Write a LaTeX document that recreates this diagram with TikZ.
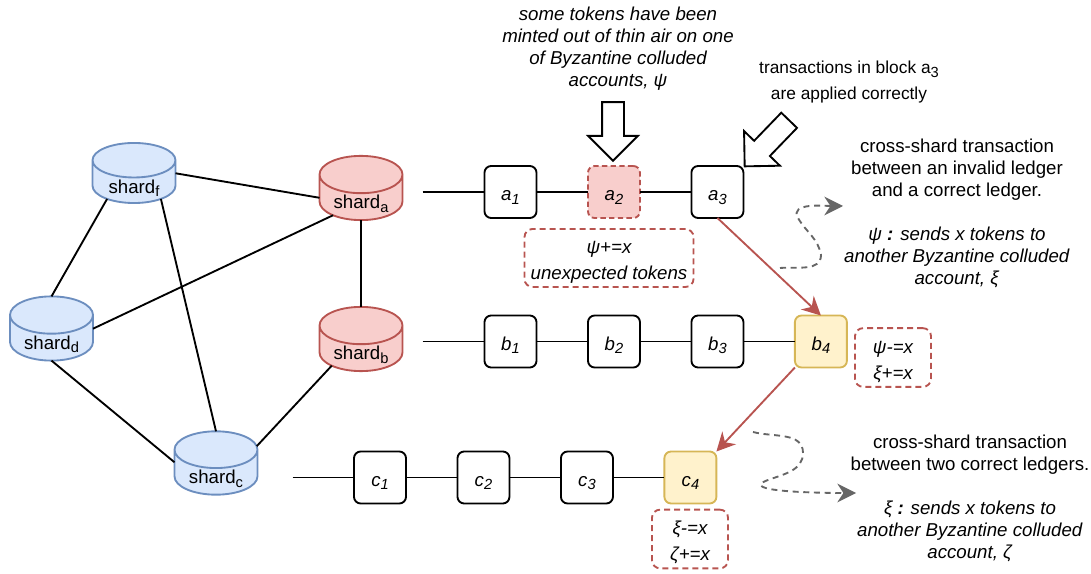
\documentclass[tikz,border=0pt]{standalone}
\usepackage{fontspec}
\setmainfont{Liberation Sans}
\usepackage{tikz}
\usetikzlibrary{shapes.geometric, shapes.arrows, arrows.meta, positioning}
\definecolor{redfill}{HTML}{F8CECC}
\definecolor{redline}{HTML}{B85450}
\definecolor{bluefill}{HTML}{DAE8FC}
\definecolor{blueline}{HTML}{6C8EBF}
\definecolor{yellowfill}{HTML}{FFF2CC}
\definecolor{yellowline}{HTML}{D6B656}
\definecolor{grayline}{HTML}{666666}
\newcommand{\lowtext}[1]{\raisebox{-0.35ex}{\fontsize{11}{12}\selectfont #1}}
\newcommand{\shardname}[1]{\raisebox{-5.5pt}[0pt][0pt]{shard\lowtext{#1}}}
\newcommand{\notegap}{\rule{0pt}{16pt}}

\begin{document}
\begin{tikzpicture}[
    x=0.75pt, y=0.75pt,
    every node/.append style={font=\fontsize{14}{16.5}\selectfont},
    shard/.style={cylinder, shape border rotate=90, aspect=0.68, draw, line width=1.4pt, minimum width=62.25pt, minimum height=38.25pt, inner sep=0pt, outer sep=0pt, text height=5.5pt, text depth=0pt, anchor=shape center},
    shardblue/.style={shard, draw=blueline, fill=bluefill},
    shardred/.style={shard, draw=redline, fill=redfill},
    block/.style={draw, rounded corners=5pt, line width=1.4pt, minimum size=39pt, inner sep=0pt, outer sep=0pt, fill=white, text height=13pt, text depth=0pt, font=\fontsize{14}{16.5}\selectfont\itshape},
    badblock/.style={block, draw=redline, fill=redfill, dash pattern=on 4pt off 2.5pt},
    crossblock/.style={block, draw=yellowline, fill=yellowfill},
    notebox/.style={draw=redline, dash pattern=on 4.5pt off 3pt, rounded corners=6pt, line width=1.4pt, inner sep=0pt, align=center, font=\fontsize{14}{19.5}\selectfont\itshape},
    bigarrow/.style={single arrow, draw, line width=1.4pt, fill=white, minimum width=37pt, minimum height=44pt, single arrow head extend=10.5pt, inner sep=7.5pt},
    link/.style={line width=1.4pt},
    redarrow/.style={draw=redline, line width=1.4pt, -{Stealth[length=14pt, width=14pt]}},
    grayarrow/.style={draw=grayline, line width=1.4pt, dash pattern=on 4.5pt off 3.5pt, -{Stealth[length=14pt, width=14pt]}},
    caption/.style={align=center},
    node distance=38.6pt
]
    \useasboundingbox (0,0) rectangle (1091,574);

    % Shards
    \node[shardblue] (shardf) at (134,401) {\shardname{f}};
    \node[shardblue] (shardd) at (51.5,245.5) {\shardname{d}};
    \node[shardblue] (shardc) at (216,111) {\shardname{c}};
    \node[shardred] (sharda) at (361,386) {\shardname{a}};
    \node[shardred] (shardb) at (361,235) {\shardname{b}};

    \draw[link] (shardf.12) -- (sharda.180);
    \draw[link] (shardf.212) -- (shardd.90);
    \draw[link] (shardf.328) -- (shardc.90);
    \draw[link] (sharda.212) -- (shardd.13);
    \draw[link] (sharda.270) -- (shardb.90);
    \draw[link] (shardd.270) -- (shardc.166);
    \draw[link] (shardb.210) -- (shardc.33);

    % Ledgers
    \node[block] (a1) at (510.5,382) {a\lowtext{1}};
    \node[badblock, right=of a1] (a2) {a\lowtext{2}};
    \node[block, right=of a2] (a3) {a\lowtext{3}};
    \node[block] (b1) at (510.5,232.5) {b\lowtext{1}};
    \node[block, right=of b1] (b2) {b\lowtext{2}};
    \node[block, right=of b2] (b3) {b\lowtext{3}};
    \node[crossblock, right=of b3] (b4) {b\lowtext{4}};
    \node[block] (c1) at (380,96.5) {c\lowtext{1}};
    \node[block, right=of c1] (c2) {c\lowtext{2}};
    \node[block, right=of c2] (c3) {c\lowtext{3}};
    \node[crossblock, right=of c3] (c4) {c\lowtext{4}};
    \coordinate[left=46.5pt of a1] (starta);
    \coordinate[left=46.5pt of b1] (startb);
    \coordinate[left=46pt of c1] (startc);

    \draw[link] (starta) -- (a1);
    \draw[link] (a1) -- (a2);
    \draw[link] (a2) -- (a3);
    \draw[link] (startb) -- (b1);
    \draw[link] (b1) -- (b2);
    \draw[link] (b2) -- (b3);
    \draw[link] (b3) -- (b4);
    \draw[link] (startc) -- (c1);
    \draw[link] (c1) -- (c2);
    \draw[link] (c2) -- (c3);
    \draw[link] (c3) -- (c4);

    \draw[redarrow] (a3.south) -- (b4.north);
    \draw[redarrow] (b4.south west) -- (c4.north east);

    % Notes
    \node[notebox, minimum width=126.75pt, minimum height=43.5pt] (notea) at (609,316) {\notegap ψ+=x\\unexpected tokens};
    \node[notebox, minimum width=57pt, minimum height=44pt] (noteb) at (893,216.5) {\notegap ψ-=x\\ξ+=x};
    \node[notebox, minimum width=57pt, minimum height=44pt] (notec) at (690,35) {\notegap ξ-=x\\ζ+=x};

    % Captions
    \node[caption, font=\fontsize{14}{16.5}\selectfont\itshape] (minted) at (618,525) {some tokens have been\\minted out of thin air on one\\of Byzantine colluded\\accounts, ψ};
    \node[caption, font=\fontsize{13}{19}\selectfont] (applied) at (849,492) {transactions in block a\lowtext{3}\\are applied correctly};
    \node[caption] (invalid) at (957,361) {cross-shard transaction\\between an invalid ledger\\and a correct ledger.\\[16.5pt]\textit{ψ \textbf{:} sends x tokens to}\\\textit{another Byzantine colluded}\\\textit{account, ξ}};
    \node[caption] (correct) at (970,76) {cross-shard transaction\\between two correct ledgers.\\[16.5pt]\textit{ξ \textbf{:} sends x tokens to}\\\textit{another Byzantine colluded}\\\textit{account, ζ}};

    \node[bigarrow, rotate=-90] (downarrow) at (613,448) {};
    \node[bigarrow, rotate=226, minimum height=48pt] (slantarrow) at (770.7,434.6) {};

    % Side arrows
    \coordinate (graya) at (780,306);
    \coordinate (grayb) at (821,319);
    \coordinate (grayc) at (798,356);
    \coordinate (grayd) at (843,368);
    \coordinate (graye) at (753,142);
    \coordinate (grayf) at (803,121);
    \coordinate (grayg) at (768,94);
    \coordinate (grayh) at (856,81);
    \draw[grayarrow] (graya) to[out=5, in=-90] (grayb) to[out=100, in=-60] (grayc) to[out=120, in=180] (grayd);
    \draw[grayarrow] (graye) to[out=-15, in=90] (grayf) to[out=-90, in=20] (grayg) to[out=-160, in=180] (grayh);
\end{tikzpicture}
\end{document}
